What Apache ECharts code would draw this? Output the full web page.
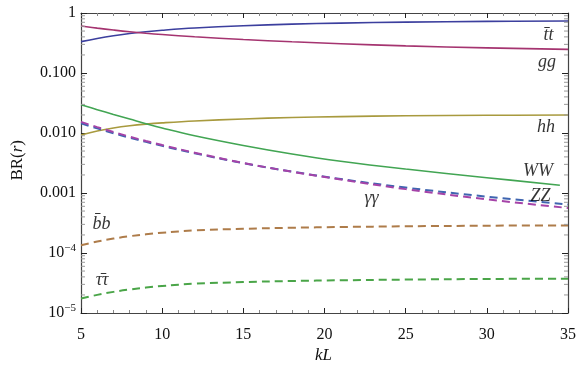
<!DOCTYPE html>
<html><head><meta charset="utf-8">
<script src="https://cdn.jsdelivr.net/npm/echarts@6/dist/echarts.min.js"></script>
<style>html,body{margin:0;padding:0;background:#fff}#c{width:579px;height:382px}</style>
</head><body><div id="c"></div>
<script>
// ---- data ----
const kL    = [5, 6, 7, 8, 9, 10, 12, 15, 18, 21, 25, 30, 35];
const kL_WW = [5, 6, 7, 8, 9, 10, 12, 15, 18, 21, 25, 30, 34.5];
const BR_tt = [0.333, 0.376, 0.417, 0.454, 0.488, 0.516, 0.562, 0.614, 0.652, 0.679, 0.705, 0.724, 0.736];
const BR_gg = [0.607, 0.560, 0.520, 0.486, 0.459, 0.437, 0.401, 0.361, 0.331, 0.308, 0.283, 0.262, 0.248];
const BR_hh = [0.00927, 0.01076, 0.01208, 0.01318, 0.01406, 0.01476, 0.01589, 0.01714, 0.01811, 0.01875, 0.01936, 0.01972, 0.01995];
const BR_WW = [0.0296, 0.0245, 0.0204, 0.0171, 0.0143, 0.0121, 0.0090, 0.0062, 0.00447, 0.00339, 0.00251, 0.0018, 0.00135];
const BR_ZZ = [0.01452, 0.01194, 0.00993, 0.00836, 0.00711, 0.00611, 0.00459, 0.00314, 0.00227, 0.00171, 0.00123, 0.000869, 0.000644];
const BR_aa = [0.01531, 0.01253, 0.01038, 0.00869, 0.00736, 0.00630, 0.00470, 0.00317, 0.00226, 0.00168, 0.00116, 0.000785, 0.000562];
const BR_bb = [1.343e-4, 1.549e-4, 1.738e-4, 1.905e-4, 2.051e-4, 2.178e-4, 2.377e-4, 2.529e-4, 2.636e-4, 2.710e-4, 2.786e-4, 2.851e-4, 2.884e-4];
const BR_tautau = [1.738e-5, 2.004e-5, 2.249e-5, 2.466e-5, 2.655e-5, 2.818e-5, 3.076e-5, 3.273e-5, 3.412e-5, 3.508e-5, 3.606e-5, 3.690e-5, 3.733e-5];

const xTicks = [5, 10, 15, 20, 25, 30, 35];
const yTickLabels = {'0': '1', '-1': '0.100', '-2': '0.010', '-3': '0.001', '-4': '10{s|−4}', '-5': '10{s|−5}'};
const yMinorTicks = [];
for (let e = -5; e < 0; e++) for (let m = 2; m <= 9; m++) yMinorTicks.push(m * Math.pow(10, e));

const labelText = ['t\u0304t', 'gg', 'hh', 'WW', 'ZZ', 'γγ', 'b\u0304b', 'τ\u0304τ'];
const labelX    = [33.8, 33.7, 33.65, 33.15, 33.3, 22.9, 6.26, 6.3];
const labelY    = [0.43, 0.152, 0.0124, 0.00229, 0.00089, 0.000825, 0.000303, 0.0000355];

// ---- chart ----
const serif = '"Liberation Serif", "DejaVu Serif", serif';
const pair = (xs, ys) => xs.map((x, i) => [x, ys[i]]);
function line(name, xs, ys, color, dashed) {
  return {
    name, type: 'line', data: pair(xs, ys), smooth: 0.4, symbol: 'none',
    lineStyle: dashed ? {color, width: 2, type: [8, 5]} : {color, width: 1.6},
    z: dashed ? 3 : 2
  };
}
const tickAxisBase = {
  axisLine: {show: true, lineStyle: {color: '#444', width: 1.2}},
  splitLine: {show: false}
};
const chart = echarts.init(document.getElementById('c'));
chart.setOption({
  animation: false,
  backgroundColor: '#fff',
  grid: {left: 81, right: 10, top: 13, bottom: 69},
  xAxis: [
    Object.assign({}, tickAxisBase, {
      type: 'value', min: 5, max: 35, interval: 5, position: 'bottom',
      axisTick: {show: true, inside: true, length: 5, lineStyle: {color: '#222'}},
      minorTick: {show: true, splitNumber: 5, length: 3, lineStyle: {color: '#888'}},
      axisLabel: {fontFamily: serif, fontSize: 16, color: '#111', margin: 14,
        formatter: v => xTicks.includes(v) ? String(v) : ''}
    }),
    Object.assign({}, tickAxisBase, {
      type: 'value', min: 5, max: 35, interval: 5, position: 'top',
      axisTick: {show: true, inside: true, length: 5, lineStyle: {color: '#222'}},
      minorTick: {show: true, splitNumber: 5, length: 3, lineStyle: {color: '#888'}},
      axisLabel: {show: false}
    })
  ],
  yAxis: [
    Object.assign({}, tickAxisBase, {
      type: 'log', logBase: 10, min: 1e-5, max: 1, position: 'left',
      axisTick: {show: true, inside: true, length: 6, lineStyle: {color: '#222'}},
      axisLabel: {fontFamily: serif, fontSize: 16, color: '#111', margin: 5,
        formatter: v => yTickLabels[String(Math.round(Math.log10(v)))] || '',
        rich: {s: {fontFamily: serif, fontSize: 11, color: '#111', padding: [0, 0, 9, 0]}}}
    }),
    Object.assign({}, tickAxisBase, {
      type: 'log', logBase: 10, min: 1e-5, max: 1, position: 'right',
      axisTick: {show: true, inside: true, length: 6, lineStyle: {color: '#222'}},
      axisLabel: {show: false}
    })
  ],
  series: [
    line('tt', kL, BR_tt, '#3c3f9e', false),
    line('gg', kL, BR_gg, '#a53470', false),
    line('hh', kL, BR_hh, '#a89a3e', false),
    line('WW', kL_WW, BR_WW, '#42a553', false),
    line('ZZ', kL, BR_ZZ, '#3f65b0', true),
    line('γγ', kL, BR_aa, '#a543a8', true),
    line('bb', kL, BR_bb, '#ae7c4a', true),
    line('ττ', kL, BR_tautau, '#4aa548', true),
    {
      name: 'minorTicks', type: 'custom', silent: true, z: 5,
      data: yMinorTicks.map(v => [5, v]),
      renderItem: (params, api) => {
        const v = api.value(1);
        const pL = api.coord([5, v]);
        const pR = api.coord([35, v]);
        return {type: 'group', children: [
          {type: 'line', shape: {x1: pL[0], y1: pL[1], x2: pL[0] + 4, y2: pL[1]}, style: {stroke: '#999', lineWidth: 1}},
          {type: 'line', shape: {x1: pR[0] - 4, y1: pR[1], x2: pR[0], y2: pR[1]}, style: {stroke: '#999', lineWidth: 1}}
        ]};
      }
    },
    {
      name: 'labels', type: 'scatter', symbolSize: 0, silent: true, z: 6,
      data: labelText.map((t, i) => ({value: [labelX[i], labelY[i]], name: t})),
      label: {show: true, position: 'inside', formatter: p => p.name,
        fontFamily: serif, fontStyle: 'italic', fontSize: 18, color: '#000'}
    }
  ],
  graphic: [
    {type: 'text', left: 9, top: 140, rotation: Math.PI / 2,
      style: {text: 'BR({i|r})', fontFamily: serif, fontSize: 17, fill: '#111',
        rich: {i: {fontFamily: serif, fontStyle: 'italic', fontSize: 17}}}},
    {type: 'text', left: 315, top: 347,
      style: {text: 'kL', fontFamily: serif, fontStyle: 'italic', fontSize: 17, fill: '#111'}}
  ]
});
</script></body></html>
